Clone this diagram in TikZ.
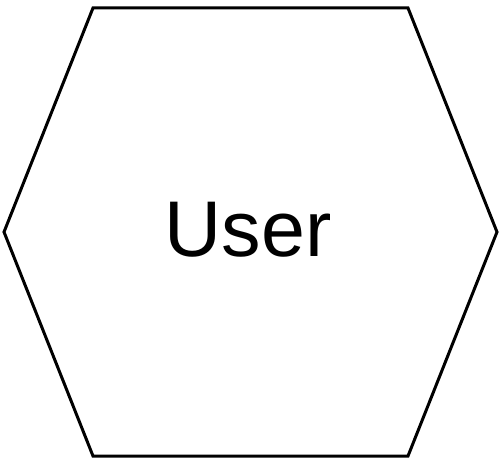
\documentclass[tikz,border=0pt]{standalone}
\usepackage{fontspec}
\setmainfont{Liberation Sans}
\usetikzlibrary{positioning}

\begin{document}
\begin{tikzpicture}[
  x=1pt,y=1pt,
  hexline/.style={draw=black,line width=3pt,line join=miter},
  label/.style={font=\fontsize{79}{90}\selectfont,inner sep=0pt},
]
  \useasboundingbox (0,0) rectangle (500,459);

  % hexagon outline
  \coordinate (tl) at (93,451);
  \coordinate (tr) at (408,451);
  \coordinate (r)  at (497,227);
  \coordinate (br) at (408,3);
  \coordinate (bl) at (93,3);
  \coordinate (l)  at (4,227);
  \draw[hexline] (tl) -- (tr) -- (r) -- (br) -- (bl) -- (l) -- cycle;

  \node[label] (user) at (248,229) {User};
\end{tikzpicture}
\end{document}
